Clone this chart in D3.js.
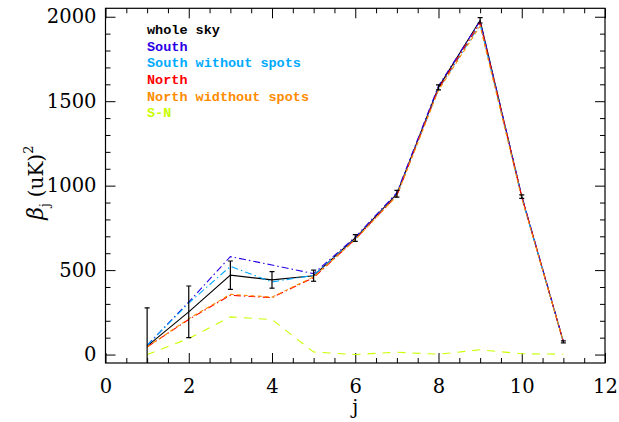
<!DOCTYPE html>
<html>
<head>
<meta charset="utf-8">
<script src="https://cdn.jsdelivr.net/npm/d3@7"></script>
<style>
  body { margin: 0; background: #fff; }
  svg { display: block; }
  .tick text { font-family: "DejaVu Serif", serif; font-size: 19.5px; fill: #000; }
  .tick line { stroke: #000; }
</style>
</head>
<body>
<svg width="619" height="422"></svg>
<script>

// j index
var scales = [1, 2, 3, 4, 5, 6, 7, 8, 9, 10, 11];

// beta_j values (uK)^2
var wholeSky     = [50, 253, 470, 442, 467, 690, 952, 1582, 1979, 935, 75];
var wholeSkyErr  = [226, 153, 84, 49, 33, 20, 20, 15, 16, 10, 6];
var south        = [55, 311, 580, 530, 479, 695, 958, 1590, 1975, 940, 78];
var southNoSpots = [55, 305, 522, 430, 469, 685, 945, 1570, 1955, 930, 75];
var north        = [45, 208, 351, 337, 455, 683, 943, 1575, 1965, 935, 75];
var northNoSpots = [45, 212, 357, 340, 460, 680, 940, 1565, 1945, 925, 75];
var sMinusN      = [0, 95, 223, 207, 15, 0, 14, 2, 28, 5, 2];

var legendLabels = ["whole sky", "South", "South without spots", "North", "North widthout spots", "S-N"];
var legendColors = ["#000000", "#2a00e6", "#00aaff", "#ff0000", "#ff8c00", "#c8ff00"];

var xTicks = [0, 2, 4, 6, 8, 10, 12];
var yTicks = [0, 500, 1000, 1500, 2000];

var svg = d3.select("svg");

var x = d3.scaleLinear().domain([0, 12]).range([105.5, 605]);
var y = d3.scaleLinear().domain([-50, 2050]).range([363, 8.3]);

var plotLeft = x.range()[0], plotRight = x.range()[1],
    plotTop = y.range()[1], plotBottom = y.range()[0];

svg.append("clipPath").attr("id", "plot-clip")
  .append("rect")
  .attr("x", plotLeft).attr("y", plotTop)
  .attr("width", plotRight - plotLeft).attr("height", plotBottom - plotTop);

// axes, ticks pointing inward, mirrored on top/right
var minorX = d3.range(0, 12.01, 0.5).filter(function(v) { return v % 2 != 0; });
var minorY = d3.range(0, 2001, 100).filter(function(v) { return v % 500 != 0; });

function noDomain(g) { g.select(".domain").remove(); }

svg.append("g").attr("transform", "translate(0," + plotBottom + ")")
  .call(d3.axisBottom(x).tickValues(xTicks).tickSize(-10).tickPadding(16).tickFormat(d3.format("d")))
  .call(noDomain);
svg.append("g").attr("transform", "translate(0," + plotBottom + ")")
  .call(d3.axisBottom(x).tickValues(minorX).tickSize(-5).tickFormat(""))
  .call(noDomain);
svg.append("g").attr("transform", "translate(0," + plotTop + ")")
  .call(d3.axisTop(x).tickValues(xTicks).tickSize(-10).tickFormat(""))
  .call(noDomain);
svg.append("g").attr("transform", "translate(0," + plotTop + ")")
  .call(d3.axisTop(x).tickValues(minorX).tickSize(-5).tickFormat(""))
  .call(noDomain);

svg.append("g").attr("transform", "translate(" + plotLeft + ",0)")
  .call(d3.axisLeft(y).tickValues(yTicks).tickSize(-10).tickPadding(9).tickFormat(d3.format("d")))
  .call(noDomain);
svg.append("g").attr("transform", "translate(" + plotLeft + ",0)")
  .call(d3.axisLeft(y).tickValues(minorY).tickSize(-5).tickFormat(""))
  .call(noDomain);
svg.append("g").attr("transform", "translate(" + plotRight + ",0)")
  .call(d3.axisRight(y).tickValues(yTicks).tickSize(-10).tickFormat(""))
  .call(noDomain);
svg.append("g").attr("transform", "translate(" + plotRight + ",0)")
  .call(d3.axisRight(y).tickValues(minorY).tickSize(-5).tickFormat(""))
  .call(noDomain);

svg.append("rect")
  .attr("x", plotLeft).attr("y", plotTop)
  .attr("width", plotRight - plotLeft).attr("height", plotBottom - plotTop)
  .attr("fill", "none").attr("stroke", "#000").attr("stroke-width", 1.2);

// series (whole sky first, the others drawn over it)
var series = [
  { values: wholeSky,     color: legendColors[0], dash: null },
  { values: south,        color: legendColors[1], dash: "7,3,1.5,3" },
  { values: southNoSpots, color: legendColors[2], dash: "7,3,1.5,3" },
  { values: north,        color: legendColors[3], dash: "7,3,1.5,3" },
  { values: northNoSpots, color: legendColors[4], dash: "4,3" },
  { values: sMinusN,      color: legendColors[5], dash: "8,7" }
];

var line = d3.line()
  .x(function(d, i) { return x(scales[i]); })
  .y(function(d) { return y(d); });

var plot = svg.append("g").attr("clip-path", "url(#plot-clip)");

plot.selectAll(".series")
  .data(series)
  .enter().append("path")
  .attr("class", "series")
  .attr("d", function(d) { return line(d.values); })
  .attr("fill", "none")
  .attr("stroke", function(d) { return d.color; })
  .attr("stroke-width", 1.1)
  .attr("stroke-dasharray", function(d) { return d.dash; });

// error bars on whole sky
var errs = plot.selectAll(".err")
  .data(wholeSky)
  .enter().append("g")
  .attr("class", "err");

errs.append("line")
  .attr("x1", function(d, i) { return x(scales[i]); })
  .attr("x2", function(d, i) { return x(scales[i]); })
  .attr("y1", function(d, i) { return y(d - wholeSkyErr[i]); })
  .attr("y2", function(d, i) { return y(d + wholeSkyErr[i]); })
  .attr("stroke", "#000").attr("stroke-width", 1.2);

[-1, 1].forEach(function(s) {
  errs.append("line")
    .attr("x1", function(d, i) { return x(scales[i]) - 2.5; })
    .attr("x2", function(d, i) { return x(scales[i]) + 2.5; })
    .attr("y1", function(d, i) { return y(d + s * wholeSkyErr[i]); })
    .attr("y2", function(d, i) { return y(d + s * wholeSkyErr[i]); })
    .attr("stroke", "#000").attr("stroke-width", 1.2);
});

// legend
svg.append("g").selectAll("text")
  .data(legendLabels)
  .enter().append("text")
  .attr("x", 147)
  .attr("y", function(d, i) { return 34 + i * 16.67; })
  .attr("fill", function(d, i) { return legendColors[i]; })
  .style("font-family", "'Liberation Mono', monospace")
  .style("font-weight", "bold")
  .style("font-size", "13.5px")
  .text(function(d) { return d; });

// axis titles
svg.append("text")
  .attr("x", (plotLeft + plotRight) / 2)
  .attr("y", 414)
  .attr("text-anchor", "middle")
  .style("font-family", "'DejaVu Serif', serif")
  .style("font-size", "19.5px")
  .text("j");

var ylab = svg.append("text")
  .attr("transform", "translate(43," + ((plotTop + plotBottom) / 2 - 3) + ") rotate(-90)")
  .attr("text-anchor", "middle")
  .style("font-family", "'DejaVu Serif', serif")
  .style("font-size", "20px");
ylab.append("tspan").style("font-style", "italic").style("font-size", "22px").text("\u03b2");
ylab.append("tspan").attr("dy", 6).style("font-size", "12px").text("j");
ylab.append("tspan").attr("dy", -6).attr("dx", 6).text("(uK)");
ylab.append("tspan").attr("dy", -10).style("font-size", "13px").text("2");

</script>
</body>
</html>
